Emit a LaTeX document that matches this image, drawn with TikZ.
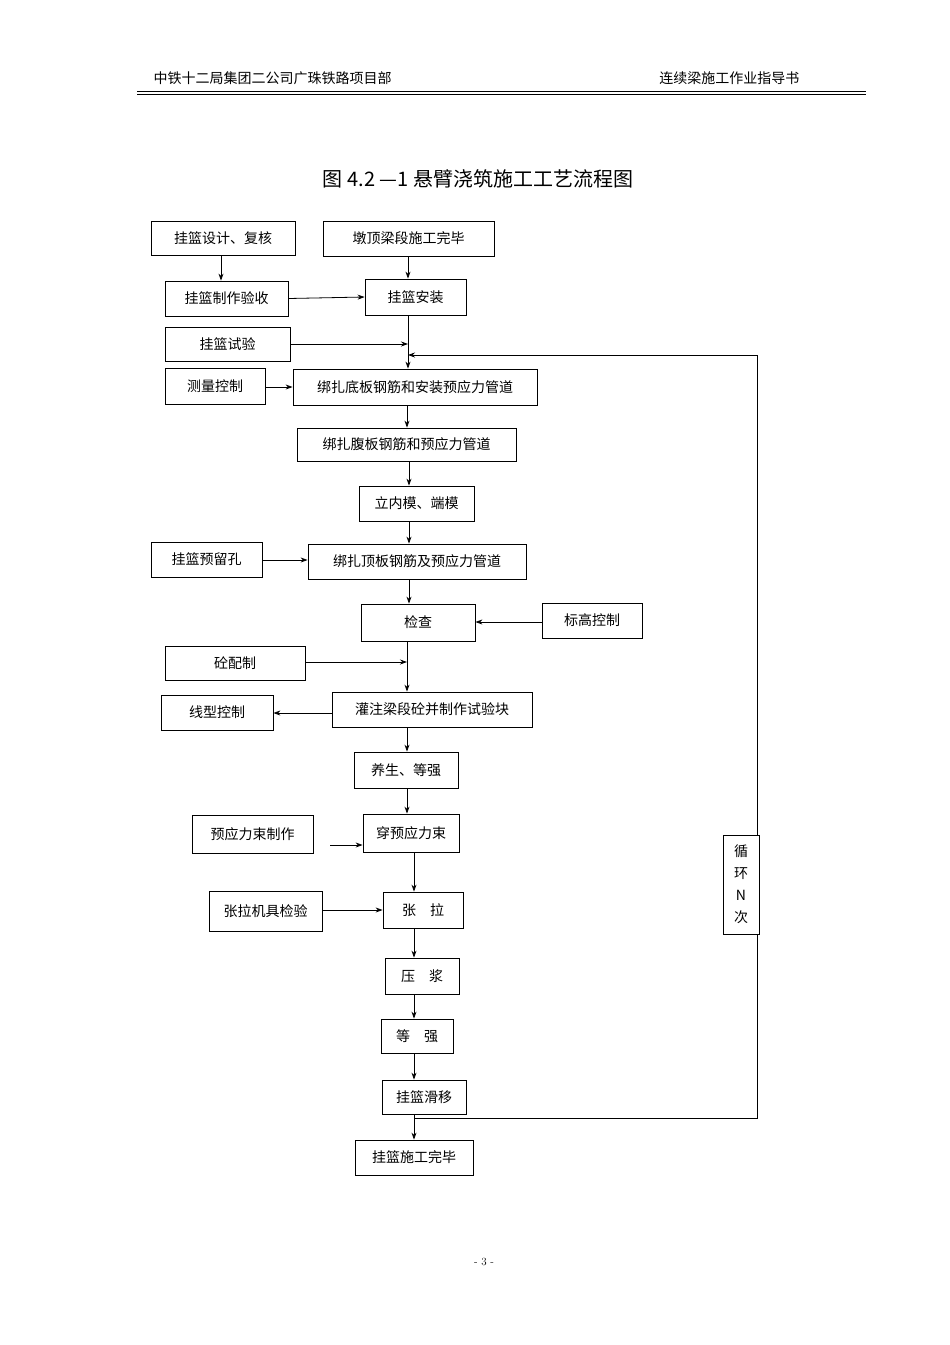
\documentclass[tikz,border=0pt]{standalone}
\usepackage{fontspec}
\newfontfamily\cjk{Noto Sans CJK SC}
\usetikzlibrary{arrows.meta}
\tikzset{
 box/.style={draw,line width=0.8pt,font=\cjk\fontsize{14}{16}\selectfont,inner sep=0pt},
 arr/.style={-{Stealth[length=7pt,width=5pt]},line width=0.8pt},
 ln/.style={line width=0.8pt}
}
\newcommand{\bx}[6]{\node[box,minimum width=#4-#2,minimum height=#5-#3] (#1) at ({(#2+#4)/2},{(#3+#5)/2}) {#6};}
\begin{document}
\begin{tikzpicture}[x=1pt,y=-1pt]
\useasboundingbox (0,0) rectangle (950,1345);
\node[font=\cjk\fontsize{14}{16}\selectfont,anchor=west] (h1) at (150,78) {中铁十二局集团二公司广珠铁路项目部};
\node[font=\cjk\fontsize{14}{16}\selectfont,anchor=east] (h2) at (803,78) {连续梁施工作业指导书};
\draw[line width=0.6pt] (137,91.5) -- (866,91.5);
\draw[line width=1.6pt] (137,94.5) -- (866,94.5);
\node[font=\cjk\fontsize{20}{24}\selectfont] (title) at (478,179) {图 4.2 —1 悬臂浇筑施工工艺流程图};
\bx{b1}{151}{221}{295}{255}{挂篮设计、复核}
\bx{b2}{323}{221}{494}{256}{墩顶梁段施工完毕}
\bx{b3}{165}{281}{288}{316}{挂篮制作验收}
\bx{b4}{365}{279}{466}{315}{挂篮安装}
\bx{b5}{165}{327}{290}{361}{挂篮试验}
\bx{b6}{165}{368}{265}{404}{测量控制}
\bx{b7}{293}{369}{537}{405}{绑扎底板钢筋和安装预应力管道}
\bx{b8}{297}{428}{516}{461}{绑扎腹板钢筋和预应力管道}
\bx{b9}{359}{486}{474}{521}{立内模、端模}
\bx{b10}{151}{542}{262}{577}{挂篮预留孔}
\bx{b11}{308}{544}{526}{579}{绑扎顶板钢筋及预应力管道}
\bx{b12}{361}{604}{475}{641}{检查}
\bx{b13}{542}{603}{642}{638}{标高控制}
\bx{b14}{165}{646}{305}{680}{砼配制}
\bx{b15}{161}{695}{273}{730}{线型控制}
\bx{b16}{332}{692}{532}{727}{灌注梁段砼并制作试验块}
\bx{b17}{354}{752}{458}{788}{养生、等强}
\bx{b18}{192}{815}{313}{853}{预应力束制作}
\bx{b19}{363}{814}{459}{852}{穿预应力束}
\bx{b20}{209}{891}{322}{931}{张拉机具检验}
\bx{b21}{383}{892}{463}{928}{张\quad 拉}
\bx{b22}{385}{958}{459}{994}{压\quad 浆}
\bx{b23}{381}{1019}{453}{1053}{等\quad 强}
\bx{b24}{382}{1080}{466}{1114}{挂篮滑移}
\bx{b25}{355}{1140}{473}{1175}{挂篮施工完毕}
\node[box,minimum width=36,minimum height=99,align=center,font=\cjk\fontsize{14}{22}\selectfont] (loop) at (741,884.5) {循\\环\\N\\次};
% connectors
\draw[arr] (b1.south -| 221,0) -- (b3.north -| 221,0);
\draw[arr] (b2.south -| 408,0) -- (b4.north -| 408,0);
\draw[arr] (b3.east) -- (b4.west);
\draw[arr] (b4.south -| 408,0) -- (b7.north -| 408,0);
\coordinate (j5) at (408,344);
\draw[arr] (b5.east |- j5) -- (j5);
\draw[arr] (b6.east |- 0,387) -- (b7.west |- 0,387);
\draw[arr] (b7.south -| 407,0) -- (b8.north -| 407,0);
\draw[arr] (b8.south -| 409,0) -- (b9.north -| 409,0);
\draw[arr] (b9.south -| 409,0) -- (b11.north -| 409,0);
\draw[arr] (b10.east |- 0,560) -- (b11.west |- 0,560);
\draw[arr] (b11.south -| 409,0) -- (b12.north -| 409,0);
\draw[arr] (b13.west |- 0,622) -- (b12.east |- 0,622);
\draw[arr] (b12.south -| 407,0) -- (b16.north -| 407,0);
\coordinate (j14) at (407,662);
\draw[arr] (b14.east |- j14) -- (j14);
\draw[arr] (b16.west |- 0,713) -- (b15.east |- 0,713);
\draw[arr] (b16.south -| 407,0) -- (b17.north -| 407,0);
\draw[arr] (b17.south -| 407,0) -- (b19.north -| 407,0);
\draw[arr] (330,845) -- (b19.west |- 0,845);
\draw[arr] (b19.south -| 414,0) -- (b21.north -| 414,0);
\draw[arr] (b20.east |- 0,910) -- (b21.west |- 0,910);
\draw[arr] (b21.south -| 414,0) -- (b22.north -| 414,0);
\draw[arr] (b22.south -| 414,0) -- (b23.north -| 414,0);
\draw[arr] (b23.south -| 414,0) -- (b24.north -| 414,0);
\draw[arr] (b24.south -| 414,0) -- (b25.north -| 414,0);
\coordinate (r1) at (414,1118);
\coordinate (r2) at (757,1118);
\coordinate (r3) at (757,355);
\coordinate (r4) at (408,355);
\draw[ln] (r1) -- (r2) -- (loop.south -| r2);
\draw[arr] (loop.north -| r3) -- (r3) -- (r4);
\node[font=\fontsize{11}{13}\selectfont] (pg) at (484,1262) {- 3 -};
\end{tikzpicture}
\end{document}
